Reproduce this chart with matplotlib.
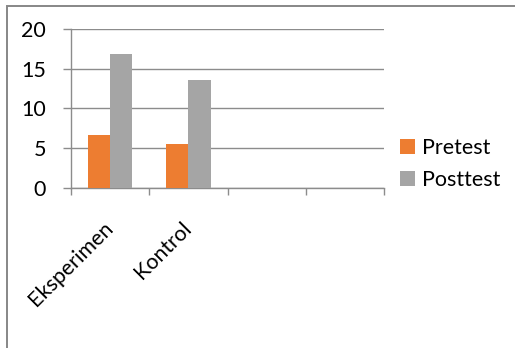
import matplotlib
matplotlib.use("Agg")
import matplotlib.pyplot as plt
from matplotlib.patches import Rectangle, Patch
import numpy as np

categories = ["Eksperimen", "Kontrol", "", ""]
pretest = [6.6, 5.5]
posttest = [16.9, 13.6]
series_names = ["Pretest", "Posttest"]
y_ticks = [0, 5, 10, 15, 20]

orange = "#ED7D31"
gray = "#A5A5A5"
line_gray = "#8C8C8C"

plt.rcParams["font.family"] = ["Lato", "DejaVu Sans"]
FS = 15.5

W, H = 515, 348
fig = plt.figure(figsize=(W / 100, H / 100), dpi=100)

# outer chart border
fig.patches.append(Rectangle((7 / W, -0.1), 1.2, (H - 6) / H + 0.1,
                             transform=fig.transFigure, fill=False,
                             edgecolor="#878787", linewidth=1.4))

ax = fig.add_axes([71 / W, (H - 187.7) / H, (384 - 71) / W, (187.7 - 29) / H])

x = np.arange(len(categories))
bw = 0.285
n = len(pretest)
ax.bar(x[:n] - bw / 2, pretest, width=bw, color=orange, zorder=3)
ax.bar(x[:n] + bw / 2, posttest, width=bw, color=gray, zorder=3)

ax.set_xlim(-0.5, len(categories) - 0.5)
ax.set_ylim(0, 20)
ax.set_yticks(y_ticks)
ax.set_yticklabels([str(v) for v in y_ticks], fontsize=FS)
ax.yaxis.grid(True, color=line_gray, linewidth=1.0, zorder=0)
ax.tick_params(axis="y", length=6, width=1.0, color=line_gray, pad=12)

ax.set_xticks(x)
ax.set_xticklabels(categories, fontsize=FS, rotation=45, ha="right",
                   va="center", rotation_mode="anchor")
ax.set_xticks(np.arange(len(categories) + 1) - 0.5, minor=True)
ax.tick_params(axis="x", which="major", length=0, pad=27)
ax.tick_params(axis="x", which="minor", length=5, width=1.0, color=line_gray)

for side in ["top", "right"]:
    ax.spines[side].set_visible(False)
for side in ["left", "bottom"]:
    ax.spines[side].set_color(line_gray)
    ax.spines[side].set_linewidth(1.0)

handles = [Patch(facecolor=orange), Patch(facecolor=gray)]
fig.legend(handles, series_names, loc="center left",
           bbox_to_anchor=(391 / W, (H - 164) / H), frameon=False,
           fontsize=FS, handlelength=0.7, handleheight=0.7,
           handletextpad=0.35, labelspacing=0.55, borderaxespad=0)

fig.savefig("out.png", dpi=100)
